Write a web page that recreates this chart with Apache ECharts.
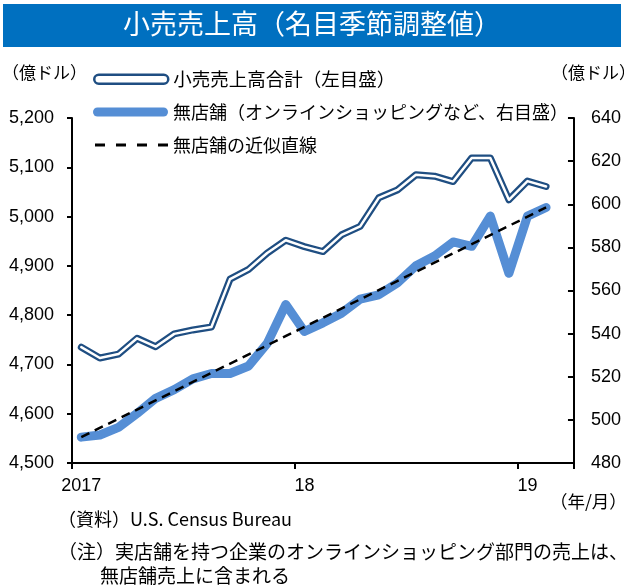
<!DOCTYPE html>
<html>
<head>
<meta charset="utf-8">
<script src="https://cdn.jsdelivr.net/npm/echarts@6/dist/echarts.min.js"></script>
<style>
html,body{margin:0;padding:0;background:#fff;}
#chart{width:624px;height:587px;}
</style>
</head>
<body>
<div id="chart"></div>
<script>
// ---- data ----
var months = ['2017-01','2017-02','2017-03','2017-04','2017-05','2017-06','2017-07','2017-08','2017-09','2017-10','2017-11','2017-12',
              '2018-01','2018-02','2018-03','2018-04','2018-05','2018-06','2018-07','2018-08','2018-09','2018-10','2018-11','2018-12',
              '2019-01','2019-02','2019-03'];
var yearLabels = {'2017-01':'2017','2018-01':'18','2019-01':'19'};
var totalSales = [4735,4713,4721,4753,4736,4762,4770,4776,4873,4893,4926,4952,
                  4939,4929,4963,4980,5038,5054,5085,5082,5071,5119,5119,5034,5072,5061];
var nonStore = [492,493,496.5,503,510,514,519,521.5,521.5,525,535.5,553.5,
                541,545,549.5,556,558,563.5,571.5,576,582.5,580.5,594.5,568,594.5,598.5];
var trendNonStore = [492,null,null,null,null,null,null,null,null,null,null,null,
                     null,null,null,null,null,null,null,null,null,null,null,null,null,598.5];
var leftTicks = {min:4500,max:5200,interval:100};
var rightTicks = {min:480,max:640,interval:20};
var nameTotal = '小売売上高合計（左目盛）';
var nameNonStore = '無店舗（オンラインショッピングなど、右目盛）';
var nameTrend = '無店舗の近似直線';

var NAVY = '#1F4E82', BLUE = '#558ED5';
var JP = '"Noto Sans CJK JP","Noto Sans",sans-serif';
var NUM = '"Liberation Sans",Arial,sans-serif';

var chart = echarts.init(document.getElementById('chart'), null, {renderer:'canvas'});
var legendText = {fontFamily: JP, fontSize: 18, color: '#000'};
var option = {
  animation: false,
  backgroundColor: '#fff',
  grid: {left: 72, right: 48, top: 118, bottom: 124, containLabel: false},
  graphic: [
    {type:'rect', left:3, top:4, shape:{width:618, height:43}, style:{fill:'#0070C0'}},
    {type:'text', left:'center', top:10, style:{text:'小売売上高（名目季節調整値）', fill:'#fff', font:'27px ' + JP}},
    {type:'text', left:2, top:64, style:{text:'（億ドル）', fill:'#000', font:'17px ' + JP}},
    {type:'text', left:551, top:64, style:{text:'（億ドル）', fill:'#000', font:'17px ' + JP}},
    {type:'text', left:550, top:493, style:{text:'（年/月）', fill:'#000', font:'17.5px ' + JP}},
    {type:'text', left:58, top:510, style:{text:'（資料）U.S. Census Bureau', fill:'#000', font:'18px ' + JP}},
    {type:'text', left:58, top:542, style:{text:'（注）実店舗を持つ企業のオンラインショッピング部門の売上は、', fill:'#000', font:'19px ' + JP}},
    {type:'text', left:100, top:566, style:{text:'無店舗売上に含まれる', fill:'#000', font:'19px ' + JP}}
  ],
  legend: [
    {left: 88, top: 65, itemWidth: 74, itemHeight: 9, itemGap: 0, textStyle: {fontFamily: JP, fontSize: 18.5, color: '#000'},
     data: [{name: nameTotal, icon: 'path://M4.5,0 H69.5 A4.5,4.5 0 0 1 69.5,9 H4.5 A4.5,4.5 0 0 1 4.5,0 Z',
             itemStyle: {color: '#fff', borderColor: NAVY, borderWidth: 2.5}}]},
    {left: 88, top: 98, itemWidth: 75, itemHeight: 9, itemGap: 0, textStyle: legendText,
     data: [{name: nameNonStore, icon: 'path://M4.5,0 H70.5 A4.5,4.5 0 0 1 70.5,9 H4.5 A4.5,4.5 0 0 1 4.5,0 Z',
             itemStyle: {color: BLUE}}]},
    {left: 90, top: 131, itemWidth: 73, itemHeight: 3, itemGap: 0, textStyle: legendText,
     data: [{name: nameTrend, icon: 'path://M0,0H10V3H0Z M21,0H31V3H21Z M42,0H52V3H42Z M63,0H73V3H63Z',
             itemStyle: {color: '#000', borderWidth: 0}}]}
  ],
  xAxis: {
    type: 'category', data: months, boundaryGap: true,
    axisLine: {lineStyle: {color: '#000', width: 2}},
    axisTick: {show: true, length: 6, lineStyle: {color: '#000', width: 2},
               interval: function (i) { return i % 12 === 0; }},
    axisLabel: {interval: function (i) { return i % 12 === 0; }, margin: 14,
                formatter: function (v) { return yearLabels[v] || ''; },
                fontFamily: NUM, fontSize: 18, color: '#000'},
    splitLine: {show: false}
  },
  yAxis: [
    {type: 'value', min: leftTicks.min, max: leftTicks.max, interval: leftTicks.interval, position: 'left',
     axisLine: {show: true, lineStyle: {color: '#000', width: 2}},
     axisTick: {show: true, length: 5, lineStyle: {color: '#000', width: 2}},
     axisLabel: {margin: 18, fontFamily: NUM, fontSize: 18, color: '#000',
                 formatter: function (v) { return String(v).replace(/\B(?=(\d{3})+(?!\d))/g, ','); }},
     splitLine: {show: false}},
    {type: 'value', min: rightTicks.min, max: rightTicks.max, interval: rightTicks.interval, position: 'right',
     axisLine: {show: true, lineStyle: {color: '#000', width: 2}},
     axisTick: {show: true, inside: true, length: 6, lineStyle: {color: '#000', width: 2}},
     axisLabel: {margin: 17, fontFamily: NUM, fontSize: 18, color: '#000'},
     splitLine: {show: false}}
  ],
  series: [
    {name: nameNonStore, type: 'line', yAxisIndex: 1, data: nonStore, symbol: 'none', z: 2,
     lineStyle: {color: BLUE, width: 9, cap: 'round', join: 'round'}, itemStyle: {color: BLUE}},
    {name: nameTrend, type: 'line', yAxisIndex: 1, data: trendNonStore, connectNulls: true, symbol: 'none', z: 3,
     lineStyle: {color: '#000', width: 2.5, type: [9, 6]}, itemStyle: {color: '#000'}},
    {name: nameTotal, type: 'line', yAxisIndex: 0, data: totalSales, symbol: 'none', z: 4,
     lineStyle: {color: NAVY, width: 7, cap: 'round', join: 'round'}, itemStyle: {color: NAVY}},
    {name: 'total-inner', type: 'line', yAxisIndex: 0, data: totalSales, symbol: 'none', z: 5, silent: true,
     lineStyle: {color: '#fff', width: 2.5, cap: 'round', join: 'round'}, itemStyle: {color: '#fff'}}
  ]
};
chart.setOption(option);
</script>
</body>
</html>
